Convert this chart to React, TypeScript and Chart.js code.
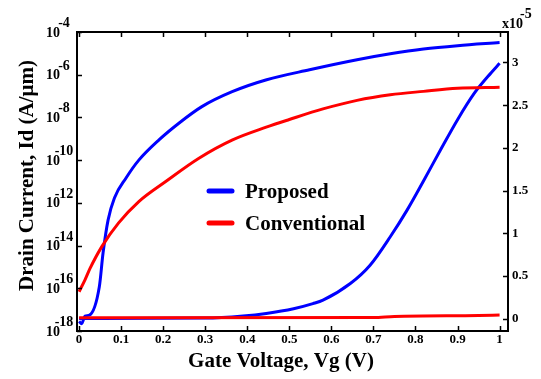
import React, { useEffect, useRef } from "react";
import { Chart, registerables } from "chart.js";

Chart.register(...registerables);

// ---- data ----
const proposedLogVg = [0, 0.006, 0.014, 0.025, 0.048, 0.057, 0.069, 0.084, 0.112, 0.142, 0.19, 0.238, 0.292, 0.364, 0.446, 0.548, 0.661, 0.74, 0.819, 0.9, 1.0];
const proposedLogId = [2.8e-18, 2.2e-18, 5.0e-18, 5.6e-18, 1.15e-16, 4.6e-15, 1.6e-13, 1.7e-12, 1.5e-11, 1.0e-10, 8.9e-10, 5.5e-9, 3.2e-8, 1.6e-7, 5.8e-7, 1.7e-6, 5.0e-6, 9.5e-6, 1.6e-5, 2.3e-5, 3.2e-5];

const conventionalLogVg = [0, 0.014, 0.026, 0.054, 0.094, 0.142, 0.206, 0.285, 0.365, 0.445, 0.5, 0.58, 0.661, 0.74, 0.819, 0.9, 1.0];
const conventionalLogId = [6.9e-17, 2.5e-16, 8.5e-16, 8.9e-15, 1.15e-13, 1.15e-12, 1.0e-11, 1.23e-10, 8.9e-10, 3.5e-9, 8.0e-9, 2.5e-8, 6.3e-8, 1.15e-7, 1.66e-7, 2.3e-7, 2.6e-7];

// linear currents in units of 1e-5 A/um
const proposedLinVg = [0, 0.3, 0.39, 0.445, 0.51, 0.556, 0.58, 0.645, 0.692, 0.74, 0.78, 0.82, 0.86, 0.9, 0.94, 0.98, 1.0];
const proposedLinId = [0, 0.005, 0.03, 0.06, 0.115, 0.175, 0.215, 0.41, 0.625, 0.958, 1.27, 1.62, 1.98, 2.33, 2.64, 2.88, 2.99];

const conventionalLinVg = [0, 0.7, 0.75, 0.95, 1.0];
const conventionalLinId = [0.01, 0.012, 0.025, 0.035, 0.04];

const xTicks = [0, 0.1, 0.2, 0.3, 0.4, 0.5, 0.6, 0.7, 0.8, 0.9, 1];
const xTickLabels = ["0", "0.1", "0.2", "0.3", "0.4", "0.5", "0.6", "0.7", "0.8", "0.9", "1"];
const yTicks = [1e-4, 1e-6, 1e-8, 1e-10, 1e-12, 1e-14, 1e-16, 1e-18];
const yTickExponents = ["-4", "-6", "-8", "-10", "-12", "-14", "-16", "-18"];
const y2Ticks = [0, 0.5, 1, 1.5, 2, 2.5, 3];
const y2TickLabels = ["0", "0.5", "1", "1.5", "2", "2.5", "3"];

const seriesNames = ["Proposed", "Conventional"];
const BLUE = "#0000ff";
const RED = "#ff0000";
const FONT = "'Liberation Serif', 'Times New Roman', serif";

const toPts = (xs: number[], ys: number[]) => xs.map((x, i) => ({ x, y: ys[i] }));

const decorPlugin = {
  id: "decor",
  afterDraw(chart: any) {
    const { ctx, chartArea: a, scales } = chart;
    const xs = scales.x, ys = scales.y, y2 = scales.y2;
    ctx.save();
    // frame
    ctx.strokeStyle = "#000";
    ctx.lineWidth = 2;
    ctx.strokeRect(a.left, a.top, a.right - a.left, a.bottom - a.top);
    // inward tick marks
    ctx.lineWidth = 1.5;
    ctx.beginPath();
    xTicks.forEach((v) => {
      const px = Math.round(xs.getPixelForValue(v)) + 0.5;
      ctx.moveTo(px, a.bottom);
      ctx.lineTo(px, a.bottom - 5);
      ctx.moveTo(px, a.top);
      ctx.lineTo(px, a.top + 5);
    });
    yTicks.forEach((v) => {
      const py = Math.round(ys.getPixelForValue(v)) + 0.5;
      ctx.moveTo(a.left, py);
      ctx.lineTo(a.left + 5, py);
    });
    y2Ticks.forEach((v) => {
      const py = Math.round(y2.getPixelForValue(v)) + 0.5;
      ctx.moveTo(a.right, py);
      ctx.lineTo(a.right - 5, py);
    });
    ctx.stroke();

    ctx.fillStyle = "#000";
    // x tick labels
    ctx.font = `bold 13px ${FONT}`;
    ctx.textAlign = "center";
    ctx.textBaseline = "alphabetic";
    xTicks.forEach((v, i) => {
      ctx.fillText(xTickLabels[i], xs.getPixelForValue(v), a.bottom + 12);
    });
    // left log tick labels
    yTicks.forEach((v, i) => {
      const py = ys.getPixelForValue(v);
      ctx.font = `bold 14px ${FONT}`;
      ctx.textAlign = "right";
      ctx.fillText("10", a.left - 17, py + 4.5);
      ctx.textAlign = "center";
      ctx.fillText(yTickExponents[i], a.left - 13, py - 5);
    });
    // right tick labels
    ctx.font = `bold 13px ${FONT}`;
    ctx.textAlign = "left";
    ctx.textBaseline = "middle";
    y2Ticks.forEach((v, i) => {
      ctx.fillText(y2TickLabels[i], a.right + 4, y2.getPixelForValue(v));
    });
    ctx.textBaseline = "alphabetic";
    ctx.font = `bold 14px ${FONT}`;
    ctx.fillText("x10", a.right - 6, a.top - 4);
    ctx.fillText("-5", a.right + 12, a.top - 14);

    // axis titles
    ctx.font = `bold 21px ${FONT}`;
    ctx.textAlign = "center";
    ctx.fillText("Gate Voltage, Vg (V)", 281, 367);
    ctx.save();
    ctx.translate(33, 175.5);
    ctx.rotate(-Math.PI / 2);
    ctx.fillText("Drain Current, Id (A/\u03bcm)", 0, 0);
    ctx.restore();

    // legend
    const legendY = [191, 223];
    const colors = [BLUE, RED];
    ctx.lineCap = "round";
    ctx.lineWidth = 5;
    seriesNames.forEach((name, i) => {
      ctx.strokeStyle = colors[i];
      ctx.beginPath();
      ctx.moveTo(209, legendY[i]);
      ctx.lineTo(232, legendY[i]);
      ctx.stroke();
      ctx.fillStyle = "#000";
      ctx.font = `bold 21px ${FONT}`;
      ctx.textAlign = "left";
      ctx.fillText(name, 245, legendY[i] + 7);
    });
    ctx.restore();
  },
};

export default function App() {
  const ref = useRef<HTMLCanvasElement | null>(null);
  useEffect(() => {
    if (!ref.current) return;
    const lineBase = {
      borderWidth: 3,
      pointRadius: 0,
      fill: false,
      cubicInterpolationMode: "monotone" as const,
    };
    const chart = new Chart(ref.current, {
      type: "line",
      data: {
        datasets: [
          { ...lineBase, label: "Proposed (log)", data: toPts(proposedLogVg, proposedLogId), borderColor: BLUE, yAxisID: "y", order: 2 },
          { ...lineBase, label: "Conventional (log)", data: toPts(conventionalLogVg, conventionalLogId), borderColor: RED, yAxisID: "y", order: 1 },
          { ...lineBase, label: "Proposed (linear)", data: toPts(proposedLinVg, proposedLinId), borderColor: BLUE, yAxisID: "y2", order: 2 },
          { ...lineBase, label: "Conventional (linear)", data: toPts(conventionalLinVg, conventionalLinId), borderColor: RED, yAxisID: "y2", order: 0 },
        ],
      },
      options: {
        responsive: false,
        animation: false,
        layout: { padding: { top: 32, left: 0, right: 0, bottom: 0 } },
        plugins: { legend: { display: false }, tooltip: { enabled: false } },
        scales: {
          x: {
            type: "linear",
            min: -0.005,
            max: 1.02,
            grid: { display: false },
            border: { display: false },
            ticks: { display: false },
            afterBuildTicks: (s: any) => { s.ticks = xTicks.map((v) => ({ value: v })); },
            afterFit: (s: any) => { s.height = 48; },
          },
          y: {
            type: "logarithmic",
            position: "left",
            min: 1e-18,
            max: 1e-4,
            grid: { display: false },
            border: { display: false },
            ticks: { display: false },
            afterBuildTicks: (s: any) => { s.ticks = yTicks.map((v) => ({ value: v })); },
            afterFit: (s: any) => { s.width = 77; },
          },
          y2: {
            type: "linear",
            position: "right",
            min: -0.146,
            max: 3.357,
            grid: { display: false },
            border: { display: false },
            ticks: { display: false },
            afterBuildTicks: (s: any) => { s.ticks = y2Ticks.map((v) => ({ value: v })); },
            afterFit: (s: any) => { s.width = 33; },
          },
        },
      },
      plugins: [decorPlugin],
    });
    return () => chart.destroy();
  }, []);
  return (
    <div style={{ position: "fixed", left: 0, top: 0, width: 541, height: 379, background: "#fff" }}>
      <canvas ref={ref} width={541} height={379} />
    </div>
  );
}
